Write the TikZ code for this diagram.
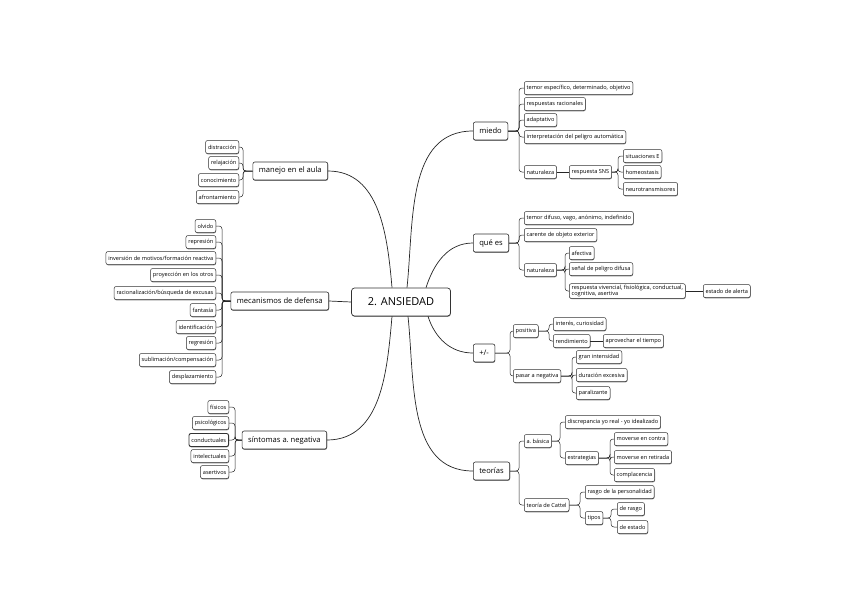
\documentclass[tikz,border=0pt]{standalone}
\usepackage{fontspec}
\setmainfont{Open Sans}
\usetikzlibrary{shadows}

\tikzset{
  box/.style={draw=black!80, fill=white, rounded corners=2pt,
    drop shadow={shadow xshift=0.3pt, shadow yshift=-0.8pt, opacity=0.7, fill=black!70}},
  topic/.style={box, line width=0.7pt, rounded corners=3pt, minimum width=99pt, minimum height=28pt,
    font=\fontsize{11}{13}\selectfont},
  branch/.style={box, line width=0.6pt, inner xsep=6pt, minimum height=18pt,
    font=\fontsize{7.6}{9}\selectfont},
  leaf/.style={box, line width=0.5pt, inner xsep=2.4pt, inner ysep=1.2pt, minimum height=13pt,
    font=\fontsize{5.6}{6.6}\selectfont},
  link/.style={line width=0.7pt, black!85},
  twig/.style={line width=0.5pt, black!85, rounded corners=3pt}
}

\begin{document}
\begin{tikzpicture}[x=1pt, y=1pt]
  \useasboundingbox[fill=white] (0,0) rectangle (848,-600);

  % centre
  \node[topic] (ansiedad) at (401,-302) {2. ANSIEDAD};

  % main branches
  \node[branch, anchor=west] (miedo) at (473,-131) {miedo};
  \node[branch, anchor=west] (quees) at (473,-243) {qué es};
  \node[branch, anchor=west] (masmenos) at (473,-353) {+/-};
  \node[branch, anchor=west] (teorias) at (473,-471) {teorías};
  \node[branch, anchor=east] (manejo) at (328,-171) {manejo en el aula};
  \node[branch, anchor=east] (mecanismos) at (329,-301) {mecanismos de defensa};
  \node[branch, anchor=east] (sintomas) at (327,-440) {síntomas a.\ negativa};

  \draw[link] ([xshift=-9pt]ansiedad.north) to[out=95, in=0] (manejo.east);
  \draw[link] ([xshift=6pt]ansiedad.north) to[out=84, in=180] (miedo.west);
  \draw[link] ([xshift=25pt]ansiedad.north) to[out=72, in=180] (quees.west);
  \draw[link] (ansiedad.west) -- (mecanismos.east);
  \draw[link] ([xshift=27pt]ansiedad.south) to[out=-72, in=180] (masmenos.west);
  \draw[link] ([xshift=7pt]ansiedad.south) to[out=-84, in=180] (teorias.west);
  \draw[link] ([xshift=-9pt]ansiedad.south) to[out=-95, in=0] (sintomas.east);

  % miedo
  \node[leaf, anchor=west] (m1) at (524,-88) {temor específico, determinado, objetivo};
  \node[leaf, anchor=west] (m2) at (524,-104) {respuestas racionales};
  \node[leaf, anchor=west] (m3) at (524,-120) {adaptativo};
  \node[leaf, anchor=west] (m4) at (524,-137) {interpretación del peligro automática};
  \node[leaf, anchor=west] (m5) at (524,-172) {naturaleza};
  \node[leaf, anchor=west] (mSNS) at (569,-172) {respuesta SNS};
  \node[leaf, anchor=west] (mE) at (623,-156) {situaciones E};
  \node[leaf, anchor=west] (mHom) at (623,-172) {homeostasis};
  \node[leaf, anchor=west] (mNeu) at (623,-189) {neurotransmisores};
  \draw[twig] (m1.west) -- ++(-5,0) |- (miedo.east);
  \draw[twig] (m2.west) -- ++(-5,0) |- (miedo.east);
  \draw[twig] (m3.west) -- ++(-5,0) |- (miedo.east);
  \draw[twig] (m4.west) -- ++(-5,0) |- (miedo.east);
  \draw[twig] (m5.west) -- ++(-5,0) |- (miedo.east);
  \draw[twig] (m5.east) -- (mSNS.west);
  \draw[twig] (mE.west) -- ++(-5,0) |- (mSNS.east);
  \draw[twig] (mHom.west) -- ++(-5,0) |- (mSNS.east);
  \draw[twig] (mNeu.west) -- ++(-5,0) |- (mSNS.east);

  % que es
  \node[leaf, anchor=west] (q1) at (524,-218) {temor difuso, vago, anónimo, indefinido};
  \node[leaf, anchor=west] (q2) at (524,-235) {carente de objeto exterior};
  \node[leaf, anchor=west] (q3) at (524,-270) {naturaleza};
  \node[leaf, anchor=west] (qA) at (569,-253) {afectiva};
  \node[leaf, anchor=west] (qS) at (569,-269) {señal de peligro difusa};
  \node[leaf, anchor=west, align=left] (qR) at (569,-291) {respuesta vivencial, fisiológica, conductual,\\cognitiva, asertiva};
  \node[leaf, anchor=west] (qAl) at (703,-291) {estado de alerta};
  \draw[twig] (q1.west) -- ++(-5,0) |- (quees.east);
  \draw[twig] (q2.west) -- ++(-5,0) |- (quees.east);
  \draw[twig] (q3.west) -- ++(-5,0) |- (quees.east);
  \draw[twig] (qA.west) -- ++(-4,0) |- (q3.east);
  \draw[twig] (qS.west) -- ++(-4,0) |- (q3.east);
  \draw[twig] (qR.west) -- ++(-4,0) |- (q3.east);
  \draw[twig] (qR.east) -- (qAl.west);

  % +/-
  \node[leaf, anchor=west] (p1) at (513,-331) {positiva};
  \node[leaf, anchor=west] (pI) at (553,-324) {interés, curiosidad};
  \node[leaf, anchor=west] (pR) at (553,-341) {rendimiento};
  \node[leaf, anchor=west] (pT) at (603,-341) {aprovechar el tiempo};
  \node[leaf, anchor=west] (p2) at (513,-376) {pasar a negativa};
  \node[leaf, anchor=west] (nG) at (576,-357) {gran intensidad};
  \node[leaf, anchor=west] (nD) at (576,-375) {duración excesiva};
  \node[leaf, anchor=west] (nP) at (576,-393) {paralizante};
  \draw[twig] (p1.west) -- ++(-3,0) |- (masmenos.east);
  \draw[twig] (p2.west) -- ++(-3,0) |- (masmenos.east);
  \draw[twig] (pI.west) -- ++(-4,0) |- (p1.east);
  \draw[twig] (pR.west) -- ++(-4,0) |- (p1.east);
  \draw[twig] (pR.east) -- (pT.west);
  \draw[twig] (nG.west) -- ++(-4,0) |- (p2.east);
  \draw[twig] (nD.west) -- ++(-4,0) |- (p2.east);
  \draw[twig] (nP.west) -- ++(-4,0) |- (p2.east);

  % teorias
  \node[leaf, anchor=west] (t1) at (524,-441) {a.\ básica};
  \node[leaf, anchor=west] (tD) at (565,-422) {discrepancia yo real - yo idealizado};
  \node[leaf, anchor=west] (tE) at (565,-458) {estrategias};
  \node[leaf, anchor=west] (tC) at (614,-439) {moverse en contra};
  \node[leaf, anchor=west] (tR) at (614,-457) {moverse en retirada};
  \node[leaf, anchor=west] (tP) at (614,-475) {complacencia};
  \node[leaf, anchor=west] (t2) at (524,-505) {teoría de Cattel};
  \node[leaf, anchor=west] (tRa) at (585,-492) {rasgo de la personalidad};
  \node[leaf, anchor=west] (tT) at (585,-518) {tipos};
  \node[leaf, anchor=west] (tdR) at (617,-509) {de rasgo};
  \node[leaf, anchor=west] (tdE) at (617,-527) {de estado};
  \draw[twig] (t1.west) -- ++(-5,0) |- (teorias.east);
  \draw[twig] (t2.west) -- ++(-5,0) |- (teorias.east);
  \draw[twig] (tD.west) -- ++(-5,0) |- (t1.east);
  \draw[twig] (tE.west) -- ++(-5,0) |- (t1.east);
  \draw[twig] (tC.west) -- ++(-4,0) |- (tE.east);
  \draw[twig] (tR.west) -- ++(-4,0) |- (tE.east);
  \draw[twig] (tP.west) -- ++(-4,0) |- (tE.east);
  \draw[twig] (tRa.west) -- ++(-5,0) |- (t2.east);
  \draw[twig] (tT.west) -- ++(-5,0) |- (t2.east);
  \draw[twig] (tdR.west) -- ++(-6,0) |- (tT.east);
  \draw[twig] (tdE.west) -- ++(-6,0) |- (tT.east);

  % manejo en el aula
  \node[leaf, anchor=east] (l1) at (239,-147) {distracción};
  \node[leaf, anchor=east] (l2) at (239,-163) {relajación};
  \node[leaf, anchor=east] (l3) at (239,-180) {conocimiento};
  \node[leaf, anchor=east] (l4) at (239,-197) {afrontamiento};
  \draw[twig] (l1.east) -- ++(4,0) |- (manejo.west);
  \draw[twig] (l2.east) -- ++(4,0) |- (manejo.west);
  \draw[twig] (l3.east) -- ++(4,0) |- (manejo.west);
  \draw[twig] (l4.east) -- ++(4,0) |- (manejo.west);

  % mecanismos de defensa
  \node[leaf, anchor=east] (d1) at (216,-226) {olvido};
  \node[leaf, anchor=east] (d2) at (216,-242) {represión};
  \node[leaf, anchor=east] (d3) at (216,-258) {inversión de motivos/formación reactiva};
  \node[leaf, anchor=east] (d4) at (216,-275) {proyección en los otros};
  \node[leaf, anchor=east] (d5) at (216,-293) {racionalización/búsqueda de excusas};
  \node[leaf, anchor=east] (d6) at (216,-310) {fantasía};
  \node[leaf, anchor=east] (d7) at (216,-327) {identificación};
  \node[leaf, anchor=east] (d8) at (216,-343) {regresión};
  \node[leaf, anchor=east] (d9) at (216,-360) {sublimación/compensación};
  \node[leaf, anchor=east] (d10) at (216,-377) {desplazamiento};
  \draw[twig] (d1.east) -- ++(6,0) |- (mecanismos.west);
  \draw[twig] (d2.east) -- ++(6,0) |- (mecanismos.west);
  \draw[twig] (d3.east) -- ++(6,0) |- (mecanismos.west);
  \draw[twig] (d4.east) -- ++(6,0) |- (mecanismos.west);
  \draw[twig] (d5.east) -- ++(6,0) |- (mecanismos.west);
  \draw[twig] (d6.east) -- ++(6,0) |- (mecanismos.west);
  \draw[twig] (d7.east) -- ++(6,0) |- (mecanismos.west);
  \draw[twig] (d8.east) -- ++(6,0) |- (mecanismos.west);
  \draw[twig] (d9.east) -- ++(6,0) |- (mecanismos.west);
  \draw[twig] (d10.east) -- ++(6,0) |- (mecanismos.west);

  % sintomas a. negativa
  \node[leaf, anchor=east] (s1) at (229,-407) {físicos};
  \node[leaf, anchor=east] (s2) at (229,-423) {psicológicos};
  \node[leaf, anchor=east, line width=0.9pt] (s3) at (229,-440) {conductuales};
  \node[leaf, anchor=east] (s4) at (229,-456) {intelectuales};
  \node[leaf, anchor=east] (s5) at (229,-472) {asertivos};
  \draw[twig] (s1.east) -- ++(6,0) |- (sintomas.west);
  \draw[twig] (s2.east) -- ++(6,0) |- (sintomas.west);
  \draw[twig] (s3.east) -- ++(6,0) |- (sintomas.west);
  \draw[twig] (s4.east) -- ++(6,0) |- (sintomas.west);
  \draw[twig] (s5.east) -- ++(6,0) |- (sintomas.west);
\end{tikzpicture}
\end{document}
